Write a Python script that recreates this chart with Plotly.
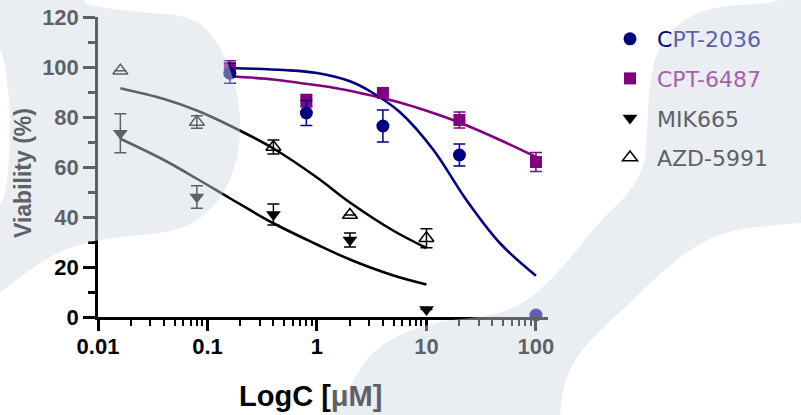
import plotly.graph_objects as go

# ---------------- data ----------------
conc_cpt = [0.16, 0.8, 4, 20, 100]
conc_ref = [0.016, 0.08, 0.4, 2, 10]

cpt2036_y = [97.5, 81.6, 76.4, 64.8, 0.8]
cpt2036_err = [4.0, 5.0, 6.4, 4.4, 0]
cpt6487_y = [99.5, 86.5, 89.6, 78.8, 62.0]
cpt6487_err = [3.0, 2.5, 0, 3.2, 3.8]
mik665_y = [73.5, 48.0, 41.0, 30.8, 3.0]
mik665_err = [7.8, 4.5, 4.2, 2.8, 0]
azd5991_y = [98.5, 78.0, 68.0, 40.8, 31.5]
azd5991_err = [0, 2.5, 2.8, 0, 3.8]

# fitted curves
cpt2036_fit_x = [0.16, 0.5, 1, 2, 3, 5.7, 11.5, 23, 47, 100]
cpt2036_fit_y = [99.6, 98.8, 97.6, 94.3, 90.5, 82.0, 67.0, 47.0, 29.5, 16.5]
cpt6487_fit_x = [0.16, 0.4, 0.7, 1.5, 3, 5.7, 10, 20, 47, 100]
cpt6487_fit_y = [96.3, 95.0, 93.6, 91.5, 88.8, 85.8, 82.5, 77.8, 70.8, 64.0]
mik665_fit_x = [0.016, 0.04, 0.08, 0.16, 0.4, 1, 2, 5, 10]
mik665_fit_y = [71.3, 62.8, 55.3, 47.5, 37.5, 29.0, 23.0, 16.6, 13.0]
azd5991_fit_x = [0.016, 0.04, 0.08, 0.17, 0.4, 1, 2, 5, 10]
azd5991_fit_y = [91.5, 87.2, 82.6, 76.0, 67.4, 55.8, 45.8, 34.5, 27.6]

x_tick_vals = [0.01, 0.1, 1, 10, 100]
x_tick_text = ["0.01", "0.1", "1", "10", "100"]
y_tick_vals = [0, 20, 40, 60, 80, 100, 120]

# ---------------- layout helpers ----------------
W, H = 801, 415
L, R, T, B = 98, 548, 17, 317


def px(x):
    return (x - L) / (R - L)


def py(y):
    return (B - y) / (B - T)


def smooth_path(pts):
    n = len(pts)
    d = "M %.4f,%.4f" % (px(pts[0][0]), py(pts[0][1]))
    for i in range(n):
        p0 = pts[i - 1]
        p1 = pts[i]
        p2 = pts[(i + 1) % n]
        p3 = pts[(i + 2) % n]
        c1 = (p1[0] + (p2[0] - p0[0]) / 6, p1[1] + (p2[1] - p0[1]) / 6)
        c2 = (p2[0] - (p3[0] - p1[0]) / 6, p2[1] - (p3[1] - p1[1]) / 6)
        d += " C %.4f,%.4f %.4f,%.4f %.4f,%.4f" % (
            px(c1[0]), py(c1[1]), px(c2[0]), py(c2[1]), px(p2[0]), py(p2[1]))
    return d + " Z"


blob1 = [(-20, -20), (70, -20), (85, 2), (100, 7), (140, 12), (180, 16), (205, 28),
         (222, 52), (235, 85), (240, 120), (237, 157), (223, 193), (200, 218),
         (170, 231), (130, 236), (95, 241), (60, 252), (30, 270), (0, 293),
         (-20, 310), (-20, 215), (0, 205), (7, 180), (10, 130), (8, 90), (0, 50),
         (-20, 40)]
blob2 = [(343, 435), (345, 400), (352, 383), (370, 356), (400, 335), (440, 322),
         (490, 315), (520, 304), (545, 285), (570, 258), (600, 222), (628, 193),
         (643, 165), (647, 130), (649, 95), (655, 60), (668, 35), (690, 17),
         (720, 7), (760, 4), (820, 3), (830, 100), (820, 222), (800, 223),
         (767, 226), (733, 231), (700, 244), (667, 268), (633, 300), (600, 331),
         (578, 356), (565, 383), (560, 415), (558, 435)]

NAVY = "#000080"
PURPLE = "#800080"
BLACK = "#000000"
GREY_TXT = "#5e6166"

fig = go.Figure()

# curves
fig.add_trace(go.Scatter(x=cpt6487_fit_x, y=cpt6487_fit_y, mode="lines",
                         line=dict(color=PURPLE, width=2.6, shape="spline"),
                         showlegend=False, hoverinfo="skip"))
fig.add_trace(go.Scatter(x=cpt2036_fit_x, y=cpt2036_fit_y, mode="lines",
                         line=dict(color=NAVY, width=2.6, shape="spline"),
                         showlegend=False, hoverinfo="skip"))
fig.add_trace(go.Scatter(x=mik665_fit_x, y=mik665_fit_y, mode="lines",
                         line=dict(color=BLACK, width=2.6, shape="spline"),
                         showlegend=False, hoverinfo="skip"))
fig.add_trace(go.Scatter(x=azd5991_fit_x, y=azd5991_fit_y, mode="lines",
                         line=dict(color=BLACK, width=2.6, shape="spline"),
                         showlegend=False, hoverinfo="skip"))

# points
fig.add_trace(go.Scatter(
    x=conc_cpt, y=cpt6487_y, mode="markers", name="CPT-6487", legendrank=2,
    legendgroup="b", cliponaxis=False,
    marker=dict(symbol="square", size=12, color=PURPLE),
    error_y=dict(type="data", array=cpt6487_err, color=PURPLE, thickness=1.5, width=6)))
fig.add_trace(go.Scatter(
    x=conc_cpt, y=cpt2036_y, mode="markers", name="CPT-2036", legendrank=1,
    legendgroup="a", cliponaxis=False,
    marker=dict(symbol="circle", size=13, color=NAVY),
    error_y=dict(type="data", array=cpt2036_err, color=NAVY, thickness=1.5, width=6)))
fig.add_trace(go.Scatter(
    x=conc_ref, y=mik665_y, mode="markers", name="MIK665", legendrank=3,
    legendgroup="c", cliponaxis=False,
    marker=dict(symbol="triangle-down", size=13, color=BLACK),
    error_y=dict(type="data", array=mik665_err, color=BLACK, thickness=1.5, width=6)))
fig.add_trace(go.Scatter(
    x=conc_ref, y=azd5991_y, mode="markers", name="AZD-5991", legendrank=4,
    legendgroup="d", cliponaxis=False,
    marker=dict(symbol="triangle-up-open", size=13, color=BLACK, line=dict(width=1.5)),
    error_y=dict(type="data", array=azd5991_err, color=BLACK, thickness=1.5, width=6)))

# legend labels with partial tint (background shapes lie over them in the reference)
names = {
    "CPT-2036": '<span style="color:#000080">C</span><span style="color:#5e61ac">PT-2036</span>',
    "CPT-6487": '<span style="color:#a461ac">CPT-6487</span>',
    "MIK665": '<span style="color:#5e6166">MIK665</span>',
    "AZD-5991": '<span style="color:#5e6166">AZD-5991</span>',
}
for tr in fig.data:
    if tr.name in names:
        tr.name = names[tr.name]

tick_font = dict(family="Liberation Sans", size=22, color="black", weight="bold")

fig.update_layout(
    width=W, height=H, autosize=False,
    margin=dict(l=L, r=W - R, t=T, b=H - B, pad=0, autoexpand=False),
    paper_bgcolor="white", plot_bgcolor="white",
    showlegend=True,
    legend=dict(xref="container", yref="container", x=603 / W, y=1 - 18 / H,
                xanchor="left", yanchor="top",
                font=dict(family="DejaVu Sans", size=22, color=GREY_TXT),
                bgcolor="rgba(0,0,0,0)", tracegroupgap=8, itemwidth=44),
    xaxis=dict(type="log", range=[-2, 2.11], showline=True, linecolor="black",
               linewidth=2.5, ticks="outside", ticklen=11, tickwidth=2.5,
               tickcolor="black", tickvals=x_tick_vals, ticktext=x_tick_text,
               tickfont=tick_font, showgrid=False, zeroline=False, automargin=False,
               ticklabelstandoff=-3,
               minor=dict(ticks="outside", ticklen=6, tickwidth=2,
                          tickcolor="black", dtick="D1", showgrid=False)),
    yaxis=dict(range=[0, 120], showline=True, linecolor="black", linewidth=2.5,
               ticks="outside", ticklen=12, tickwidth=2.5, tickcolor="black",
               tickvals=y_tick_vals, tickfont=tick_font, showgrid=False,
               zeroline=False, automargin=False,
               minor=dict(ticks="outside", ticklen=7, tickwidth=2.5,
                          tickcolor="black", dtick=10, showgrid=False)),
    shapes=[
        dict(type="path", xref="paper", yref="paper", path=smooth_path(blob1),
             fillcolor="rgba(209,215,226,0.45)", line=dict(width=0), layer="above"),
        dict(type="path", xref="paper", yref="paper", path=smooth_path(blob2),
             fillcolor="rgba(209,215,226,0.45)", line=dict(width=0), layer="above"),
    ],
    annotations=[
        dict(text="Viability (%)", xref="paper", yref="paper", x=px(23), y=py(173),
             xanchor="center", yanchor="middle", textangle=-90, showarrow=False,
             font=dict(family="Liberation Sans", size=23, color=GREY_TXT, weight="bold")),
        dict(text='LogC [<span style="color:#5e6166">μM]</span>', xref="paper",
             yref="paper", x=px(310), y=py(396), xanchor="center", yanchor="middle",
             showarrow=False,
             font=dict(family="Liberation Sans", size=29, color="black", weight="bold")),
    ],
)

fig.write_html("out.html", config={"displayModeBar": False},
               post_script="document.body.style.margin='0';document.body.style.overflow='hidden';")
